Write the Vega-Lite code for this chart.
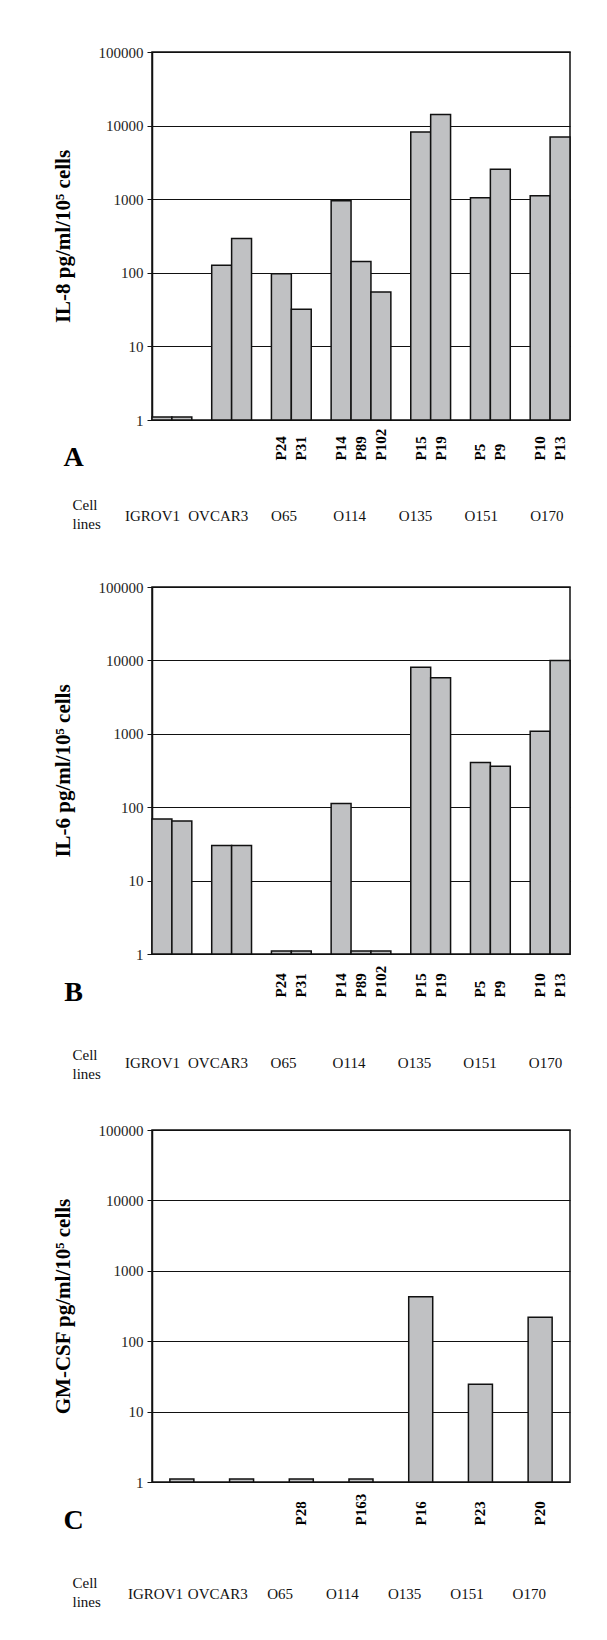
{
  "$schema": "https://vega.github.io/schema/vega-lite/v6.json",
  "autosize": {"type": "pad"},
  "padding": {"left": 51, "top": 44, "right": 34, "bottom": 20},
  "background": "white",
  "config": {
    "font": "Liberation Serif",
    "view": {"stroke": "#111", "strokeWidth": 1.5},
    "axis": {"labelFont": "Liberation Serif", "titleFont": "Liberation Serif"}
  },
  "datasets": {
    "il8": [
      {"slot": "IGROV1#1", "value": 1.1}, {"slot": "IGROV1#2", "value": 1.1},
      {"slot": "OVCAR3#1", "value": 127}, {"slot": "OVCAR3#2", "value": 292},
      {"slot": "P24", "value": 97}, {"slot": "P31", "value": 32},
      {"slot": "P14", "value": 950}, {"slot": "P89", "value": 142}, {"slot": "P102", "value": 55},
      {"slot": "P15", "value": 8200}, {"slot": "P19", "value": 14200},
      {"slot": "P5", "value": 1050}, {"slot": "P9", "value": 2550},
      {"slot": "P10", "value": 1110}, {"slot": "P13", "value": 7000}
    ],
    "il6": [
      {"slot": "IGROV1#1", "value": 69}, {"slot": "IGROV1#2", "value": 65},
      {"slot": "OVCAR3#1", "value": 30}, {"slot": "OVCAR3#2", "value": 30},
      {"slot": "P24", "value": 1.1}, {"slot": "P31", "value": 1.1},
      {"slot": "P14", "value": 112}, {"slot": "P89", "value": 1.1}, {"slot": "P102", "value": 1.1},
      {"slot": "P15", "value": 8050}, {"slot": "P19", "value": 5780},
      {"slot": "P5", "value": 407}, {"slot": "P9", "value": 360},
      {"slot": "P10", "value": 1080}, {"slot": "P13", "value": 10000}
    ],
    "gmcsf": [
      {"slot": "IGROV1#", "value": 1.1}, {"slot": "OVCAR3#", "value": 1.1},
      {"slot": "P28", "value": 1.1}, {"slot": "P163", "value": 1.1},
      {"slot": "P16", "value": 427}, {"slot": "P23", "value": 24.5}, {"slot": "P20", "value": 219}
    ],
    "cells": [
      {"cell": "IGROV1"}, {"cell": "OVCAR3"}, {"cell": "O65"}, {"cell": "O114"},
      {"cell": "O135"}, {"cell": "O151"}, {"cell": "O170"}
    ]
  },
  "spacing": 167,
  "bounds": "flush",
  "vconcat": [
    {
      "width": 418, "height": 368,
      "layer": [
        {
          "data": {"name": "il8"},
          "mark": {"type": "bar", "fill": "#c0c1c3", "stroke": "#111", "strokeWidth": 1.5},
          "encoding": {
            "x": {"field": "slot", "type": "nominal",
              "scale": {"domain": ["IGROV1#1","IGROV1#2","#g1","OVCAR3#1","OVCAR3#2","#g2","P24","P31","#g3","P14","P89","P102","#g4","P15","P19","#g5","P5","P9","#g6","P10","P13"], "paddingInner": 0, "paddingOuter": 0},
              "axis": {"orient": "bottom", "labelExpr": "indexof(datum.value, '#') >= 0 ? '' : datum.value", "labelAngle": 270, "labelAlign": "left", "labelBaseline": "middle", "labelPadding": 40, "labelOverlap": false, "ticks": false, "domain": false, "labelFontWeight": "bold", "labelFontSize": 15, "labelColor": "#000",
                "title": "A", "titleFontSize": 28, "titleFontWeight": "bold", "titleColor": "#000", "titleX": -79, "titleY": 45, "titleAlign": "center", "titleBaseline": "alphabetic", "titleAngle": 0}},
            "y": {"field": "value", "type": "quantitative",
              "scale": {"type": "log", "domain": [1, 100000], "nice": false},
              "axis": {"values": [1,10,100,1000,10000,100000], "format": "d", "grid": true, "gridColor": "#111", "gridWidth": 1, "tickSize": 5, "tickColor": "#111", "domainColor": "#111", "domainWidth": 1.5, "labelPadding": 4, "labelFontSize": 15, "labelColor": "#222",
                "title": "IL-8 pg/ml/10⁵ cells", "titleFontSize": 21, "titleFontWeight": "bold", "titleColor": "#000", "titlePadding": 25}},
            "y2": {"datum": 1}
          }
        },
        {
          "data": {"name": "cells"},
          "mark": {"type": "point", "opacity": 0},
          "encoding": {
            "x": {"field": "cell", "type": "nominal", "sort": null,
              "scale": {"type": "point", "padding": 0.179, "align": 0},
              "axis": {"orient": "bottom", "labelAngle": 0, "labelPadding": 95, "labelBaseline": "middle", "labelOverlap": false, "ticks": false, "domain": false, "labelFontSize": 15, "labelColor": "#111",
                "title": ["Cell", "lines"], "titleFontSize": 15, "titleFontWeight": "normal", "titleColor": "#111", "titleX": -80, "titleY": 84, "titleAlign": "left", "titleBaseline": "middle", "titleLineHeight": 19, "titleAngle": 0}}
          }
        }
      ],
      "resolve": {"scale": {"x": "independent"}, "axis": {"x": "independent"}}
    },
    {
      "spacing": 176,
      "bounds": "flush",
      "vconcat": [
        {
          "width": 418, "height": 367,
          "layer": [
            {
              "data": {"name": "il6"},
              "mark": {"type": "bar", "fill": "#c0c1c3", "stroke": "#111", "strokeWidth": 1.5},
              "encoding": {
                "x": {"field": "slot", "type": "nominal",
                  "scale": {"domain": ["IGROV1#1","IGROV1#2","#g1","OVCAR3#1","OVCAR3#2","#g2","P24","P31","#g3","P14","P89","P102","#g4","P15","P19","#g5","P5","P9","#g6","P10","P13"], "paddingInner": 0, "paddingOuter": 0},
                  "axis": {"orient": "bottom", "labelExpr": "indexof(datum.value, '#') >= 0 ? '' : datum.value", "labelAngle": 270, "labelAlign": "left", "labelBaseline": "middle", "labelPadding": 43, "labelOverlap": false, "ticks": false, "domain": false, "labelFontWeight": "bold", "labelFontSize": 15, "labelColor": "#000",
                    "title": "B", "titleFontSize": 28, "titleFontWeight": "bold", "titleColor": "#000", "titleX": -79, "titleY": 46, "titleAlign": "center", "titleBaseline": "alphabetic", "titleAngle": 0}},
                "y": {"field": "value", "type": "quantitative",
                  "scale": {"type": "log", "domain": [1, 100000], "nice": false},
                  "axis": {"values": [1,10,100,1000,10000,100000], "format": "d", "grid": true, "gridColor": "#111", "gridWidth": 1, "tickSize": 5, "tickColor": "#111", "domainColor": "#111", "domainWidth": 1.5, "labelPadding": 4, "labelFontSize": 15, "labelColor": "#222",
                    "title": "IL-6 pg/ml/10⁵ cells", "titleFontSize": 21, "titleFontWeight": "bold", "titleColor": "#000", "titlePadding": 25}},
                "y2": {"datum": 1}
              }
            },
            {
              "data": {"name": "cells"},
              "mark": {"type": "point", "opacity": 0},
              "encoding": {
                "x": {"field": "cell", "type": "nominal", "sort": null,
                  "scale": {"type": "point", "padding": 0.191, "align": 0},
                  "axis": {"orient": "bottom", "labelAngle": 0, "labelPadding": 108, "labelBaseline": "middle", "labelOverlap": false, "ticks": false, "domain": false, "labelFontSize": 15, "labelColor": "#111",
                    "title": ["Cell", "lines"], "titleFontSize": 15, "titleFontWeight": "normal", "titleColor": "#111", "titleX": -80, "titleY": 100, "titleAlign": "left", "titleBaseline": "middle", "titleLineHeight": 19, "titleAngle": 0}}
              }
            }
          ],
          "resolve": {"scale": {"x": "independent"}, "axis": {"x": "independent"}}
        },
        {
          "width": 418, "height": 352,
          "layer": [
            {
              "data": {"name": "gmcsf"},
              "mark": {"type": "bar", "fill": "#c0c1c3", "stroke": "#111", "strokeWidth": 1.5},
              "encoding": {
                "x": {"field": "slot", "type": "nominal",
                  "scale": {"domain": ["IGROV1#","OVCAR3#","P28","P163","P16","P23","P20"], "paddingInner": 0.598, "paddingOuter": 0.299},
                  "axis": {"orient": "bottom", "labelExpr": "indexof(datum.value, '#') >= 0 ? '' : datum.value", "labelAngle": 270, "labelAlign": "left", "labelBaseline": "middle", "labelPadding": 43, "labelOverlap": false, "ticks": false, "domain": false, "labelFontWeight": "bold", "labelFontSize": 15, "labelColor": "#000",
                    "title": "C", "titleFontSize": 28, "titleFontWeight": "bold", "titleColor": "#000", "titleX": -79, "titleY": 46, "titleAlign": "center", "titleBaseline": "alphabetic", "titleAngle": 0}},
                "y": {"field": "value", "type": "quantitative",
                  "scale": {"type": "log", "domain": [1, 100000], "nice": false},
                  "axis": {"values": [1,10,100,1000,10000,100000], "format": "d", "grid": true, "gridColor": "#111", "gridWidth": 1, "tickSize": 5, "tickColor": "#111", "domainColor": "#111", "domainWidth": 1.5, "labelPadding": 4, "labelFontSize": 15, "labelColor": "#222",
                    "title": "GM-CSF pg/ml/10⁵ cells", "titleFontSize": 21, "titleFontWeight": "bold", "titleColor": "#000", "titlePadding": 25}},
                "y2": {"datum": 1}
              }
            },
            {
              "data": {"name": "cells"},
              "mark": {"type": "point", "opacity": 0},
              "encoding": {
                "x": {"field": "cell", "type": "nominal", "sort": null,
                  "scale": {"type": "point", "padding": 0.355, "align": 0.068},
                  "axis": {"orient": "bottom", "labelAngle": 0, "labelPadding": 111, "labelBaseline": "middle", "labelOverlap": false, "ticks": false, "domain": false, "labelFontSize": 15, "labelColor": "#111",
                    "title": ["Cell", "lines"], "titleFontSize": 15, "titleFontWeight": "normal", "titleColor": "#111", "titleX": -80, "titleY": 100, "titleAlign": "left", "titleBaseline": "middle", "titleLineHeight": 19, "titleAngle": 0}}
              }
            }
          ],
          "resolve": {"scale": {"x": "independent"}, "axis": {"x": "independent"}}
        }
      ]
    }
  ]
}
